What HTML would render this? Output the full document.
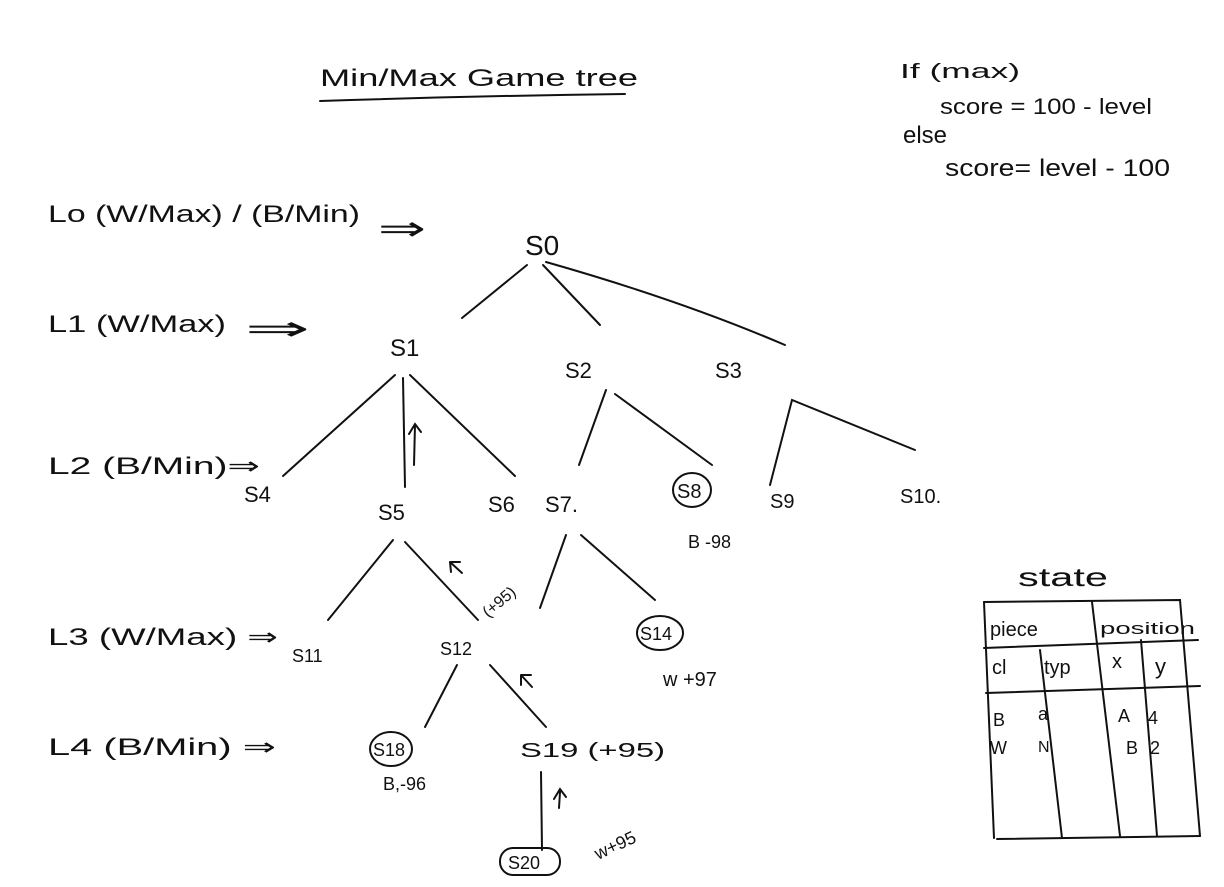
<!DOCTYPE html>
<html><head><meta charset="utf-8"><style>
html,body{margin:0;padding:0;background:#fff;}
svg{display:block}
text{font-family:"Liberation Sans",sans-serif;fill:#111;}
</style></head><body>
<svg width="1224" height="887" viewBox="0 0 1224 887" xmlns="http://www.w3.org/2000/svg">
<g stroke="#111" stroke-width="2" fill="none" stroke-linecap="round">
<path d="M320 101 Q470 96 625 94"/>
<line x1="527" y1="265" x2="462" y2="318"/>
<line x1="543" y1="265" x2="600" y2="325"/>
<path d="M546 262 Q680 300 785 345"/>
<line x1="395" y1="375" x2="283" y2="476"/>
<line x1="403" y1="378" x2="405" y2="487"/>
<line x1="410" y1="375" x2="515" y2="476"/>
<path d="M414 465 L415 425 M409 434 L415 424 L421 432"/>
<line x1="606" y1="390" x2="579" y2="465"/>
<line x1="615" y1="394" x2="712" y2="465"/>
<path d="M770 485 L792 400 L915 450"/>
<line x1="393" y1="540" x2="328" y2="620"/>
<line x1="405" y1="542" x2="478" y2="620"/>
<path d="M462 573 L450 562 M450 562 L451 572 M450 562 L460 562"/>
<line x1="566" y1="535" x2="540" y2="608"/>
<line x1="581" y1="535" x2="655" y2="600"/>
<line x1="457" y1="665" x2="425" y2="727"/>
<line x1="490" y1="665" x2="546" y2="727"/>
<path d="M532 687 L521 675 M521 675 L521 685 M521 675 L531 675"/>
<line x1="541" y1="772" x2="542" y2="850"/>
<path d="M559 808 L560 792 M554 799 L560 789 L566 797"/>
<ellipse cx="692" cy="490" rx="19" ry="17"/>
<ellipse cx="660" cy="633" rx="23" ry="17"/>
<ellipse cx="391" cy="749" rx="21" ry="17"/>
<rect x="500" y="848" width="60" height="27" rx="13"/>
<path d="M984 602 L1180 600 L1200 836"/>
<path d="M984 602 L994 838"/>
<path d="M984 648 L1198 640"/>
<path d="M986 693 L1200 686"/>
<path d="M997 839 L1200 836"/>
<path d="M1092 602 L1120 836"/>
<path d="M1040 650 L1062 838"/>
<path d="M1141 640 L1157 836"/>
</g>
<g font-size="22">
<text x="320" y="86" font-size="24" textLength="318" lengthAdjust="spacingAndGlyphs">Min/Max Game tree</text>
<text x="900" y="78" font-size="20" textLength="120" lengthAdjust="spacingAndGlyphs">If (max)</text>
<text x="940" y="114" font-size="22" textLength="212" lengthAdjust="spacingAndGlyphs">score = 100 - level</text>
<text x="903" y="143" font-size="24">else</text>
<text x="945" y="176" font-size="24" textLength="225" lengthAdjust="spacingAndGlyphs">score= level - 100</text>
<text x="48" y="222" font-size="24" textLength="312" lengthAdjust="spacingAndGlyphs">Lo (W/Max) / (B/Min)</text>
<text x="378" y="240" font-size="34" textLength="48" lengthAdjust="spacingAndGlyphs">⇒</text>
<text x="48" y="332" font-size="24" textLength="178" lengthAdjust="spacingAndGlyphs">L1 (W/Max)</text>
<text x="245" y="340" font-size="34" textLength="65" lengthAdjust="spacingAndGlyphs">⇒</text>
<text x="48" y="474" font-size="24" textLength="212" lengthAdjust="spacingAndGlyphs">L2 (B/Min)⇒</text>
<text x="48" y="645" font-size="24" textLength="230" lengthAdjust="spacingAndGlyphs">L3 (W/Max) ⇒</text>
<text x="48" y="755" font-size="24" textLength="228" lengthAdjust="spacingAndGlyphs">L4 (B/Min) ⇒</text>
<text x="525" y="255" font-size="28">S0</text>
<text x="390" y="356" font-size="24">S1</text>
<text x="565" y="378">S2</text>
<text x="715" y="378">S3</text>
<text x="244" y="502">S4</text>
<text x="378" y="520">S5</text>
<text x="488" y="512">S6</text>
<text x="545" y="512">S7.</text>
<text x="677" y="498" font-size="20">S8</text>
<text x="688" y="548" font-size="18">B -98</text>
<text x="770" y="508" font-size="20">S9</text>
<text x="900" y="503" font-size="20">S10.</text>
<text x="292" y="662" font-size="18">S11</text>
<text x="440" y="655" font-size="18">S12</text>
<text x="640" y="640" font-size="18">S14</text>
<text x="663" y="686" font-size="20">w +97</text>
<text x="488" y="618" font-size="16" transform="rotate(-40 488 618)">(+95)</text>
<text x="373" y="756" font-size="18">S18</text>
<text x="383" y="790" font-size="18">B,-96</text>
<text x="520" y="757" font-size="20" textLength="145" lengthAdjust="spacingAndGlyphs">S19 (+95)</text>
<text x="508" y="869" font-size="18">S20</text>
<text x="598" y="860" font-size="18" transform="rotate(-25 598 860)">w+95</text>
<text x="1018" y="586" font-size="26" textLength="90" lengthAdjust="spacingAndGlyphs">state</text>
<text x="990" y="636" font-size="20">piece</text>
<text x="1100" y="634" font-size="17" textLength="95" lengthAdjust="spacingAndGlyphs">position</text>
<text x="992" y="674" font-size="20">cl</text>
<text x="1044" y="674" font-size="20">typ</text>
<text x="1112" y="668" font-size="20">x</text>
<text x="1155" y="674" font-size="22">y</text>
<text x="993" y="726" font-size="18">B</text>
<text x="1038" y="720" font-size="18">a</text>
<text x="1118" y="722" font-size="18">A</text>
<text x="1148" y="724" font-size="18">4</text>
<text x="990" y="754" font-size="18">W</text>
<text x="1038" y="752" font-size="16">N</text>
<text x="1126" y="754" font-size="18">B</text>
<text x="1150" y="754" font-size="18">2</text>
</g>
</svg>
</body></html>
